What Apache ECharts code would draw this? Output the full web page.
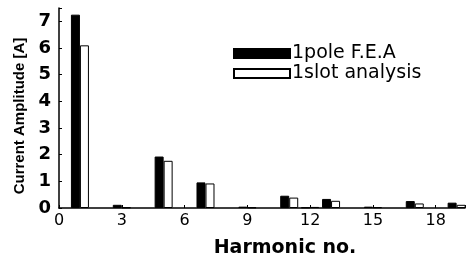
<html>
<head>
<meta charset="utf-8">
<script src="https://cdn.jsdelivr.net/npm/echarts@6/dist/echarts.min.js"></script>
<style>
  body { margin: 0; background: #fff; }
</style>
</head>
<body>
<div id="main" style="width:471px;height:254px;"></div>
<script>
// harmonic order and amplitudes [A]
var harmonics = [1, 3, 5, 7, 9, 11, 12, 13, 15, 17, 19];
var poleFEA   = [7.25, 0.12, 1.93, 0.96, 0.05, 0.46, 0.02, 0.34, 0.05, 0.26, 0.2];
var slotAnal  = [6.1, 0.02, 1.77, 0.92, 0.02, 0.39, 0.04, 0.27, 0.03, 0.17, 0.12];
var seriesNames = ['1pole F.E.A', '1slot analysis'];

function pairs(vals) {
    return harmonics.map(function (h, i) { return [h, vals[i]]; });
}

var myChart = echarts.init(document.getElementById('main'));

var option = {
    animation: false,
    grid: { left: 59, right: 6, top: 8, bottom: 46, outerBoundsMode: 'none' },
    legend: {
        left: 228, top: 39,
        orient: 'vertical',
        icon: 'rect',
        itemWidth: 56, itemHeight: 9, itemGap: 1,
        textStyle: { fontFamily: 'DejaVu Sans', fontSize: 19, color: '#000', padding: [0, 0, 0, -3] },
        data: seriesNames
    },
    xAxis: {
        type: 'value', min: 0, max: 19.4, interval: 3,
        name: 'Harmonic no.', nameLocation: 'middle', nameGap: 31,
        nameTextStyle: { fontFamily: 'DejaVu Sans', fontWeight: 'bold', fontSize: 19, color: '#000', padding: [0, 0, 0, 46] },
        axisLine: { lineStyle: { color: '#000', width: 1.5 } },
        axisTick: { show: true, inside: true, length: 3, lineStyle: { color: '#000' } },
        axisLabel: {
            fontFamily: 'DejaVu Sans', fontSize: 16, color: '#000', margin: 5,
            formatter: function (v) { return Math.abs(v - Math.round(v)) < 1e-6 ? v : ''; }
        },
        splitLine: { show: false }
    },
    yAxis: {
        type: 'value', min: 0, max: 7.5, interval: 1,
        name: 'Current Amplitude [A]', nameLocation: 'middle', nameGap: 29, nameRotate: 90,
        nameTextStyle: { fontFamily: 'Liberation Sans', fontWeight: 'bold', fontSize: 15, color: '#000', padding: [0, 16, 0, 0] },
        axisLine: { show: true, lineStyle: { color: '#000', width: 1.5 } },
        axisTick: { show: true, inside: true, length: 3, lineStyle: { color: '#000' } },
        axisLabel: {
            fontFamily: 'DejaVu Sans', fontWeight: 'bold', fontSize: 18, color: '#000', margin: 8,
            formatter: function (v) { return v <= 7 ? v : ''; }
        },
        splitLine: { show: false }
    },
    series: [{
        name: seriesNames[0],
        type: 'bar',
        barWidth: 9,
        barGap: '0%',
        itemStyle: { color: '#000', borderColor: '#000', borderWidth: 1 },
        data: pairs(poleFEA)
    }, {
        name: seriesNames[1],
        type: 'bar',
        barWidth: 9,
        barGap: '0%',
        itemStyle: { color: '#fff', borderColor: '#000', borderWidth: 1 },
        data: pairs(slotAnal)
    }]
};

myChart.setOption(option);
</script>
</body>
</html>
